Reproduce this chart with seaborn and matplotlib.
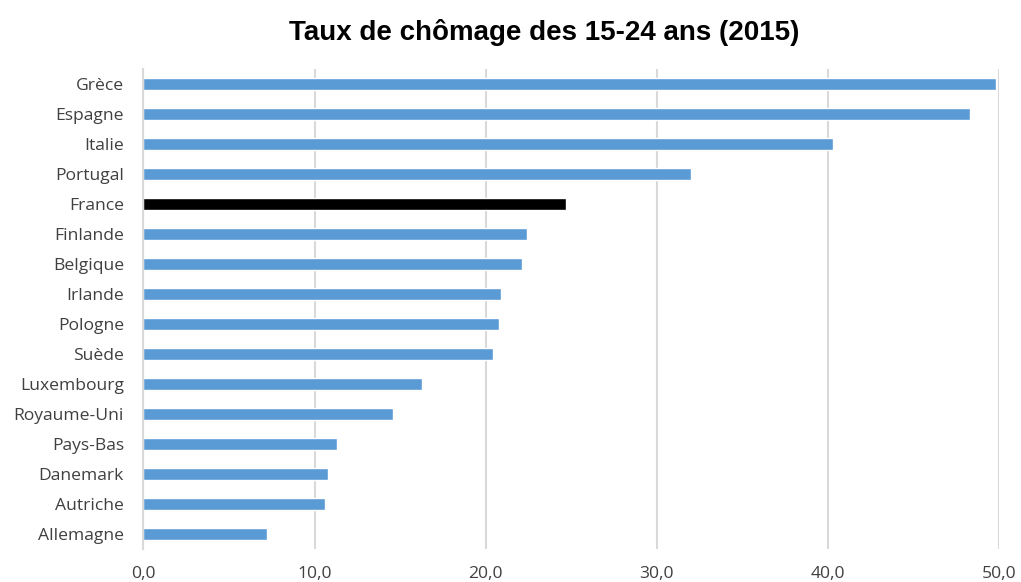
import matplotlib
matplotlib.use('Agg')
import matplotlib.pyplot as plt
import pandas as pd
import seaborn as sns

# Data
pays = ['Grèce', 'Espagne', 'Italie', 'Portugal', 'France', 'Finlande',
        'Belgique', 'Irlande', 'Pologne', 'Suède', 'Luxembourg',
        'Royaume-Uni', 'Pays-Bas', 'Danemark', 'Autriche', 'Allemagne']
taux = [49.8, 48.3, 40.3, 32.0, 24.7, 22.4, 22.1, 20.9, 20.8, 20.4,
        16.3, 14.6, 11.3, 10.8, 10.6, 7.2]
ticks = [0, 10, 20, 30, 40, 50]

df = pd.DataFrame({'pays': pays, 'taux': taux})
couleurs = {p: ('#000000' if p == 'France' else '#5B9BD5') for p in pays}

sns.set_style('white')
plt.rcParams['font.family'] = ['Open Sans', 'DejaVu Sans']

fig = plt.figure(figsize=(10.21, 5.82), dpi=100)
ax = fig.add_axes([0.1405, 0.0567, 0.838, 0.8247])

sns.barplot(data=df, x='taux', y='pays', hue='pays', palette=couleurs,
            orient='h', width=0.4, legend=False, ax=ax, saturation=1)

ax.set_xlim(0, 50)
ax.set_ylim(15.5, -0.5)
ax.set_xticks(ticks)
# virgule décimale comme dans l'original
ax.set_xticklabels([('%.1f' % t).replace('.', ',') for t in ticks])
ax.grid(axis='x', color='#D9D9D9', linewidth=1.5)
ax.set_axisbelow(True)
for s in ['top', 'right', 'bottom']:
    ax.spines[s].set_visible(False)
ax.spines['left'].set_color('#D9D9D9')
ax.spines['left'].set_linewidth(1.5)
ax.tick_params(axis='both', length=0, labelsize=12.6, labelcolor='#404040')
ax.tick_params(axis='x', pad=12)
ax.tick_params(axis='y', pad=14)
ax.set_xlabel('')
ax.set_ylabel('')

fig.suptitle('Taux de chômage des 15-24 ans (2015)', x=0.533, y=0.968,
             fontsize=20, fontweight='bold', family='Liberation Sans',
             color='black')

fig.savefig('out.png', dpi=100)
